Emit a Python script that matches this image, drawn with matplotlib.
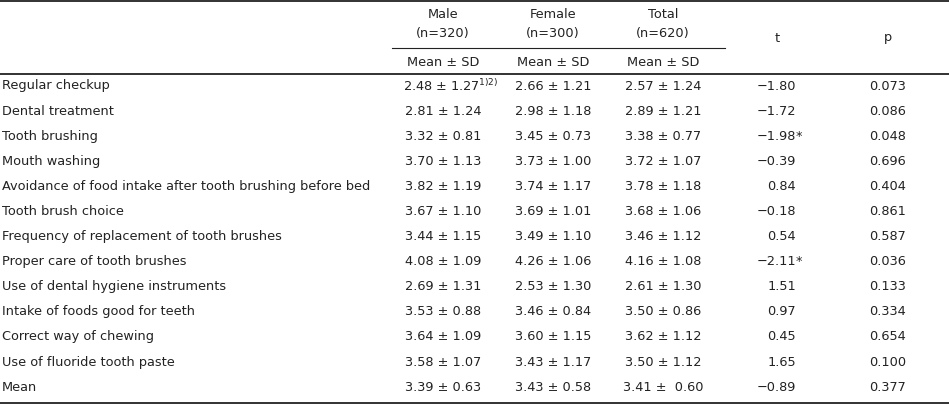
import matplotlib
matplotlib.use("Agg")
import matplotlib.pyplot as plt

labels = ["Regular checkup", "Dental treatment", "Tooth brushing", "Mouth washing",
          "Avoidance of food intake after tooth brushing before bed", "Tooth brush choice",
          "Frequency of replacement of tooth brushes", "Proper care of tooth brushes",
          "Use of dental hygiene instruments", "Intake of foods good for teeth",
          "Correct way of chewing", "Use of fluoride tooth paste", "Mean"]
male_mean = [2.48, 2.81, 3.32, 3.70, 3.82, 3.67, 3.44, 4.08, 2.69, 3.53, 3.64, 3.58, 3.39]
male_sd = [1.27, 1.24, 0.81, 1.13, 1.19, 1.10, 1.15, 1.09, 1.31, 0.88, 1.09, 1.07, 0.63]
female_mean = [2.66, 2.98, 3.45, 3.73, 3.74, 3.69, 3.49, 4.26, 2.53, 3.46, 3.60, 3.43, 3.43]
female_sd = [1.21, 1.18, 0.73, 1.00, 1.17, 1.01, 1.10, 1.06, 1.30, 0.84, 1.15, 1.17, 0.58]
total_mean = [2.57, 2.89, 3.38, 3.72, 3.78, 3.68, 3.46, 4.16, 2.61, 3.50, 3.62, 3.50, 3.41]
total_sd = [1.24, 1.21, 0.77, 1.07, 1.18, 1.06, 1.12, 1.08, 1.30, 0.86, 1.12, 1.12, 0.60]
t_vals = ["\u22121.80", "\u22121.72", "\u22121.98*", "\u22120.39", "0.84", "\u22120.18", "0.54",
          "\u22122.11*", "1.51", "0.97", "0.45", "1.65", "\u22120.89"]
p_vals = ["0.073", "0.086", "0.048", "0.696", "0.404", "0.861", "0.587", "0.036",
          "0.133", "0.334", "0.654", "0.100", "0.377"]

W, H = 949, 406
fig = plt.figure(figsize=(W / 100, H / 100), dpi=100)
ax = fig.add_axes([0, 0, 1, 1])
ax.set_xlim(0, W)
ax.set_ylim(H, 0)
ax.axis("off")
fs = 9.3
col = "#222222"
kw = dict(fontsize=fs, color=col, va="center", family="DejaVu Sans")

ax.plot([0, W], [1.5, 1.5], color=col, lw=1.3)
ax.plot([392, 725], [49, 49], color=col, lw=0.8)
ax.plot([0, W], [74.5, 74.5], color=col, lw=1.3)
ax.plot([0, W], [404, 404], color=col, lw=1.3)

cx = [443, 553, 663, 777, 888]
for x, a, b in zip(cx[:3], ["Male", "Female", "Total"], ["(n=320)", "(n=300)", "(n=620)"]):
    ax.text(x, 15, a, ha="center", **kw)
    ax.text(x, 34, b, ha="center", **kw)
    ax.text(x, 62, "Mean \u00b1 SD", ha="center", **kw)
ax.text(cx[3], 38, "t", ha="center", **kw)
ax.text(cx[4], 38, "p", ha="center", **kw)

y0, dy = 86, 25.1
for i, lab in enumerate(labels):
    y = y0 + i * dy
    ax.text(2, y, lab, ha="left", **kw)
    ms = f"{male_mean[i]:.2f} \u00b1 {male_sd[i]:.2f}"
    if i == 0:
        ms += "$^{1)2)}$"
    ax.text(cx[0] - (0 if i else -8), y, ms, ha="center", **kw)
    ax.text(cx[1], y, f"{female_mean[i]:.2f} \u00b1 {female_sd[i]:.2f}", ha="center", **kw)
    sep = " \u00b1  " if i == len(labels) - 1 else " \u00b1 "
    ax.text(cx[2], y, f"{total_mean[i]:.2f}{sep}{total_sd[i]:.2f}", ha="center", **kw)
    tv = t_vals[i]
    star = tv.endswith("*")
    ax.text(796, y, tv.rstrip("*"), ha="right", **kw)
    if star:
        ax.text(796, y, "*", ha="left", **kw)
    ax.text(cx[4], y, p_vals[i], ha="center", **kw)

fig.savefig("out.png", dpi=100)
